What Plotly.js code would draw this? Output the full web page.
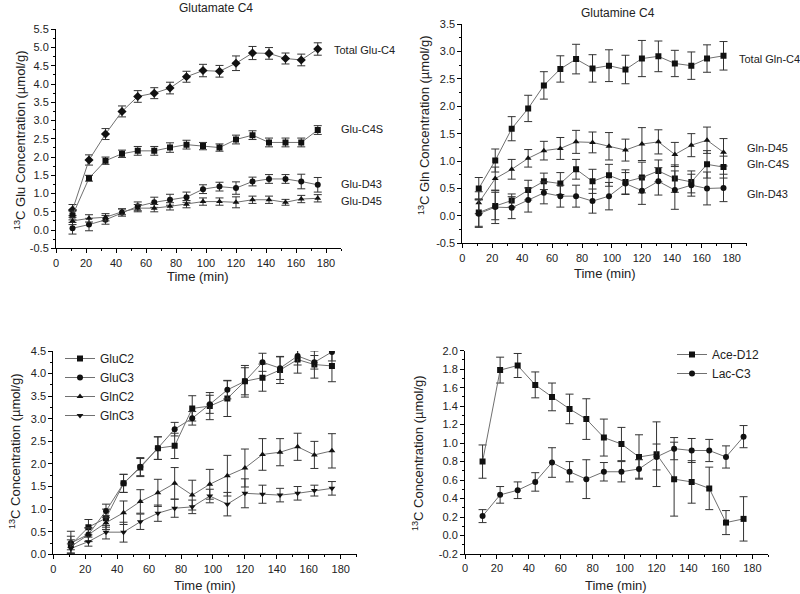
<!DOCTYPE html>
<html>
<head>
<meta charset="utf-8">
<script src="https://cdn.plot.ly/plotly-3.0.1.min.js"></script>
<style>html,body{margin:0;padding:0;background:#fff;}#chart{width:800px;height:594px;}</style>
</head>
<body>
<div id="chart"></div>
<script>
// ---- data ----
const timeMin = [11, 22, 33, 44, 54.5, 65.5, 76, 87, 98, 109, 120, 131, 142, 153, 163.5, 174.5];

// Glutamate C4 panel
const totalGluC4    = [0.55,1.92,2.63,3.25,3.66,3.75,3.89,4.20,4.37,4.35,4.57,4.85,4.84,4.70,4.66,4.96];
const totalGluC4Err = [0.15,0.14,0.15,0.15,0.16,0.15,0.16,0.15,0.17,0.16,0.20,0.18,0.16,0.15,0.16,0.17];
const gluC4S        = [0.40,1.42,1.90,2.09,2.17,2.17,2.26,2.34,2.30,2.26,2.48,2.60,2.40,2.40,2.40,2.74];
const gluC4SErr     = [0.12,0.08,0.10,0.10,0.12,0.12,0.13,0.12,0.10,0.10,0.12,0.12,0.12,0.12,0.12,0.12];
const gluD43        = [0.05,0.15,0.28,0.48,0.65,0.76,0.83,0.90,1.12,1.19,1.15,1.33,1.40,1.40,1.33,1.24];
const gluD43Err     = [0.16,0.17,0.12,0.10,0.12,0.14,0.15,0.14,0.12,0.12,0.17,0.12,0.12,0.12,0.20,0.20];
const gluD45        = [0.25,0.32,0.35,0.50,0.60,0.60,0.65,0.71,0.78,0.78,0.76,0.83,0.83,0.76,0.85,0.87];
const gluD45Err     = [0.10,0.10,0.10,0.08,0.10,0.10,0.10,0.10,0.10,0.10,0.15,0.10,0.10,0.08,0.10,0.10];

// Glutamine C4 panel
const totalGlnC4    = [0.50,1.01,1.59,1.96,2.38,2.68,2.86,2.69,2.74,2.67,2.87,2.91,2.78,2.74,2.87,2.92];
const totalGlnC4Err = [0.20,0.21,0.22,0.24,0.25,0.24,0.27,0.25,0.29,0.26,0.33,0.28,0.24,0.25,0.25,0.26];
const glnD45        = [0.24,0.68,0.85,1.05,1.19,1.23,1.35,1.34,1.27,1.20,1.31,1.35,1.12,1.29,1.38,1.16];
const glnD45Err     = [0.20,0.21,0.18,0.16,0.17,0.20,0.21,0.19,0.25,0.20,0.30,0.22,0.22,0.21,0.24,0.25];
const glnC4S        = [0.06,0.18,0.28,0.47,0.63,0.59,0.85,0.63,0.74,0.62,0.70,0.82,0.68,0.62,0.94,0.89];
const glnC4SErr     = [0.25,0.25,0.12,0.18,0.15,0.20,0.18,0.22,0.20,0.22,0.28,0.20,0.25,0.20,0.25,0.20];
const glnD43        = [0.04,0.16,0.15,0.29,0.42,0.36,0.36,0.27,0.36,0.59,0.46,0.63,0.47,0.56,0.50,0.51];
const glnD43Err     = [0.25,0.30,0.20,0.22,0.20,0.20,0.20,0.22,0.25,0.20,0.25,0.25,0.35,0.20,0.30,0.25];

// C2/C3 panel
const gluC2    = [0.21,0.60,0.80,1.57,1.92,2.35,2.40,3.23,3.28,3.45,3.83,3.91,4.08,4.31,4.20,4.17];
const gluC2Err = [0.30,0.17,0.20,0.20,0.20,0.25,0.28,0.28,0.30,0.40,0.30,0.30,0.30,0.30,0.30,0.35];
const gluC3    = [0.25,0.44,0.96,1.57,1.94,2.35,2.77,3.01,3.32,3.64,3.83,4.25,4.12,4.39,4.25,4.48];
const gluC3Err = [0.15,0.15,0.15,0.20,0.20,0.25,0.15,0.15,0.20,0.20,0.35,0.20,0.25,0.20,0.15,0.20];
const glnC2    = [0.17,0.43,0.70,0.92,1.17,1.36,1.57,1.31,1.55,1.74,1.91,2.21,2.26,2.38,2.20,2.29];
const glnC2Err = [0.15,0.15,0.15,0.26,0.26,0.30,0.35,0.33,0.33,0.45,0.42,0.35,0.30,0.30,0.30,0.38];
const glnC3    = [0.13,0.28,0.49,0.49,0.72,0.91,1.02,1.05,1.29,1.11,1.35,1.33,1.31,1.35,1.41,1.46];
const glnC3Err = [0.10,0.10,0.15,0.22,0.17,0.18,0.20,0.15,0.15,0.26,0.32,0.20,0.15,0.15,0.12,0.15];

// Acetate / Lactate panel
const aceD12    = [0.80,1.79,1.84,1.63,1.50,1.37,1.26,1.06,0.99,0.85,0.88,0.61,0.58,0.51,0.14,0.18];
const aceD12Err = [0.18,0.14,0.13,0.14,0.15,0.16,0.22,0.20,0.18,0.24,0.35,0.40,0.23,0.23,0.13,0.24];
const lacC3     = [0.21,0.44,0.49,0.58,0.79,0.69,0.61,0.69,0.69,0.72,0.85,0.94,0.92,0.92,0.85,1.07];
const lacC3Err  = [0.07,0.09,0.09,0.10,0.16,0.11,0.21,0.10,0.11,0.10,0.14,0.12,0.13,0.12,0.12,0.12];

// tick labels
const xTickVals = [0,20,40,60,80,100,120,140,160,180];
const xTickText = ['0','20','40','60','80','100','120','140','160','180'];
const yTickValsA = [-0.5,0,0.5,1,1.5,2,2.5,3,3.5,4,4.5,5,5.5];
const yTickTextA = ['-0.5','0.0','0.5','1.0','1.5','2.0','2.5','3.0','3.5','4.0','4.5','5.0','5.5'];
const yTickValsB = [-0.5,0,0.5,1,1.5,2,2.5,3,3.5];
const yTickTextB = ['-0.5','0.0','0.5','1.0','1.5','2.0','2.5','3.0','3.5'];
const yTickValsC = [0,0.5,1,1.5,2,2.5,3,3.5,4,4.5];
const yTickTextC = ['0.0','0.5','1.0','1.5','2.0','2.5','3.0','3.5','4.0','4.5'];
const yTickValsD = [-0.2,0,0.2,0.4,0.6,0.8,1.0,1.2,1.4,1.6,1.8,2.0];
const yTickTextD = ['-0.2','0.0','0.2','0.4','0.6','0.8','1.0','1.2','1.4','1.6','1.8','2.0'];

// ---- styling ----
const W = 800, H = 594;
const px = x => x / W;
const py = y => 1 - y / H;
const FONT = 'Liberation Sans, Arial, sans-serif';
const TXT = '#222';

function series(name, y, err, symbol, xa, ya, legend, showlegend) {
  return {
    type: 'scatter', mode: 'lines+markers', name: name,
    x: timeMin, y: y,
    xaxis: xa, yaxis: ya,
    legend: legend || 'legend',
    showlegend: !!showlegend,
    line: {color: '#707070', width: 1},
    marker: {symbol: symbol, size: symbol === 'diamond' ? 7 : 6, color: '#111', line: {width: 0}},
    error_y: {type: 'data', array: err, visible: true, color: '#333', thickness: 1, width: 4}
  };
}

const data = [
  series('Total Glu-C4', totalGluC4, totalGluC4Err, 'diamond', 'x', 'y'),
  series('Glu-C4S', gluC4S, gluC4SErr, 'square', 'x', 'y'),
  series('Glu-D43', gluD43, gluD43Err, 'circle', 'x', 'y'),
  series('Glu-D45', gluD45, gluD45Err, 'triangle-up', 'x', 'y'),

  series('Total Gln-C4', totalGlnC4, totalGlnC4Err, 'square', 'x2', 'y2'),
  series('Gln-D45', glnD45, glnD45Err, 'triangle-up', 'x2', 'y2'),
  series('Gln-C4S', glnC4S, glnC4SErr, 'square', 'x2', 'y2'),
  series('Gln-D43', glnD43, glnD43Err, 'circle', 'x2', 'y2'),

  series('GluC2', gluC2, gluC2Err, 'square', 'x3', 'y3', 'legend', true),
  series('GluC3', gluC3, gluC3Err, 'circle', 'x3', 'y3', 'legend', true),
  series('GlnC2', glnC2, glnC2Err, 'triangle-up', 'x3', 'y3', 'legend', true),
  series('GlnC3', glnC3, glnC3Err, 'triangle-down', 'x3', 'y3', 'legend', true),

  series('Ace-D12', aceD12, aceD12Err, 'square', 'x4', 'y4', 'legend2', true),
  series('Lac-C3', lacC3, lacC3Err, 'circle', 'x4', 'y4', 'legend2', true)
];

function xAxis(domain, anchor) {
  return {
    domain: domain, anchor: anchor, range: [0, 190],
    tickmode: 'array', tickvals: xTickVals, ticktext: xTickText,
    ticks: 'outside', ticklen: 4, tickwidth: 1, tickcolor: '#000',
    minor: {ticks: 'outside', ticklen: 2, tickcolor: '#000', dtick: 10, tick0: 0},
    showline: true, linecolor: '#000', linewidth: 1,
    showgrid: false, zeroline: false,
    tickfont: {family: FONT, size: 11, color: TXT}
  };
}
function yAxis(domain, anchor, range, vals, text, minorStep) {
  return {
    domain: domain, anchor: anchor, range: range,
    tickmode: 'array', tickvals: vals, ticktext: text,
    ticks: 'outside', ticklen: 4, tickwidth: 1, tickcolor: '#000',
    minor: {ticks: 'outside', ticklen: 2, tickcolor: '#000', dtick: minorStep, tick0: 0},
    showline: true, linecolor: '#000', linewidth: 1,
    showgrid: false, zeroline: false,
    tickfont: {family: FONT, size: 11, color: TXT}
  };
}

function ann(text, x, y, opts) {
  return Object.assign({
    text: text, xref: 'paper', yref: 'paper', x: px(x), y: py(y),
    showarrow: false, xanchor: 'left', yanchor: 'middle',
    font: {family: FONT, size: 11, color: TXT}
  }, opts || {});
}

const layout = {
  width: W, height: H,
  margin: {l: 0, r: 0, t: 0, b: 0},
  paper_bgcolor: '#fff', plot_bgcolor: '#fff',
  font: {family: FONT, color: TXT},
  xaxis:  xAxis([px(56), px(341)], 'y'),
  yaxis:  yAxis([py(248.3), py(29.3)], 'x', [-0.5, 5.5], yTickValsA, yTickTextA, 0.25),
  xaxis2: xAxis([px(462.3), px(746.7)], 'y2'),
  yaxis2: yAxis([py(243.3), py(24)], 'x2', [-0.5, 3.5], yTickValsB, yTickTextB, 0.25),
  xaxis3: xAxis([px(53.3), px(356.7)], 'y3'),
  yaxis3: yAxis([py(554.3), py(351)], 'x3', [0, 4.5], yTickValsC, yTickTextC, 0.25),
  xaxis4: xAxis([px(465), px(768.3)], 'y4'),
  yaxis4: yAxis([py(554), py(350.7)], 'x4', [-0.2, 2.0], yTickValsD, yTickTextD, 0.1),
  legend: {
    x: px(60), y: py(344), xanchor: 'left', yanchor: 'top',
    bgcolor: 'rgba(0,0,0,0)', borderwidth: 0,
    font: {family: FONT, size: 12, color: TXT},
    itemwidth: 30, tracegroupgap: 0
  },
  legend2: {
    x: px(672), y: py(340), xanchor: 'left', yanchor: 'top',
    bgcolor: 'rgba(0,0,0,0)', borderwidth: 0,
    font: {family: FONT, size: 12, color: TXT},
    itemwidth: 30, tracegroupgap: 0
  },
  annotations: [
    ann('Glutamate C4', 216, 8, {xanchor: 'center', font: {family: FONT, size: 12, color: TXT}}),
    ann('Glutamine C4', 618, 12.5, {xanchor: 'center', font: {family: FONT, size: 12, color: TXT}}),

    ann('Total Glu-C4', 332, 50),
    ann('Glu-C4S', 339, 129),
    ann('Glu-D43', 339, 184),
    ann('Glu-D45', 339, 201),

    ann('Total Gln-C4', 737, 59),
    ann('Gln-D45', 745, 148),
    ann('Gln-C4S', 745, 164),
    ann('Gln-D43', 745, 194),

    ann('Time (min)', 198, 277, {xanchor: 'center', font: {family: FONT, size: 13, color: TXT}}),
    ann('Time (min)', 605, 273, {xanchor: 'center', font: {family: FONT, size: 13, color: TXT}}),
    ann('Time (min)', 205, 585, {xanchor: 'center', font: {family: FONT, size: 13, color: TXT}}),
    ann('Time (min)', 616, 585, {xanchor: 'center', font: {family: FONT, size: 13, color: TXT}}),

    ann('<sup>13</sup>C Glu Concentration (\u00b5mol/g)', 20, 141, {xanchor: 'center', textangle: -90, font: {family: FONT, size: 13, color: TXT}}),
    ann('<sup>13</sup>C Gln Concentration (\u00b5mol/g)', 424, 126, {xanchor: 'center', textangle: -90, font: {family: FONT, size: 13, color: TXT}}),
    ann('<sup>13</sup>C Concentration (\u00b5mol/g)', 15, 451, {xanchor: 'center', textangle: -90, font: {family: FONT, size: 13, color: TXT}}),
    ann('<sup>13</sup>C Concentration (\u00b5mol/g)', 418, 453, {xanchor: 'center', textangle: -90, font: {family: FONT, size: 13, color: TXT}})
  ]
};

Plotly.newPlot('chart', data, layout, {staticPlot: true, displayModeBar: false});
</script>
</body>
</html>
